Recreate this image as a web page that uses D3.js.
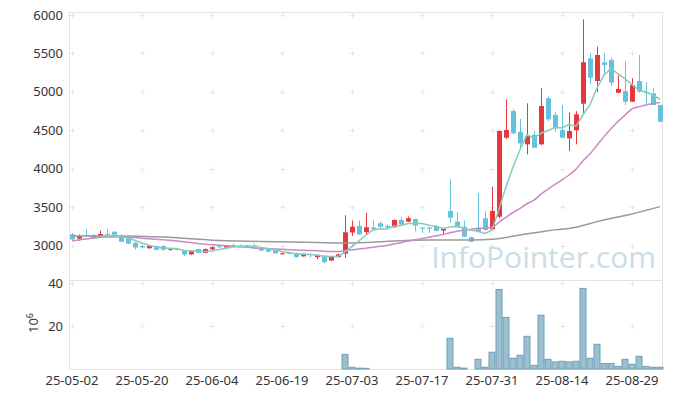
<!DOCTYPE html>
<html><head><meta charset="utf-8">
<script src="https://cdn.jsdelivr.net/npm/d3@7"></script>
<style>html,body{margin:0;padding:0;background:#fff;}svg{display:block;font-family:"Noto Sans",sans-serif;}</style>
</head><body><svg id="c" width="673" height="398"></svg>
<script>
const dates = ["2025-05-02","2025-05-07","2025-05-08","2025-05-09","2025-05-12","2025-05-13","2025-05-14","2025-05-15","2025-05-16","2025-05-19",
"2025-05-20","2025-05-21","2025-05-22","2025-05-23","2025-05-26","2025-05-27","2025-05-28","2025-05-29","2025-05-30","2025-06-02",
"2025-06-04","2025-06-05","2025-06-09","2025-06-10","2025-06-11","2025-06-12","2025-06-13","2025-06-16","2025-06-17","2025-06-18",
"2025-06-19","2025-06-20","2025-06-23","2025-06-24","2025-06-25","2025-06-26","2025-06-27","2025-06-30","2025-07-01","2025-07-02",
"2025-07-03","2025-07-04","2025-07-07","2025-07-08","2025-07-09","2025-07-10","2025-07-11","2025-07-14","2025-07-15","2025-07-16",
"2025-07-17","2025-07-18","2025-07-21","2025-07-22","2025-07-23","2025-07-24","2025-07-25","2025-07-28","2025-07-29","2025-07-30",
"2025-07-31","2025-08-01","2025-08-04","2025-08-05","2025-08-06","2025-08-07","2025-08-08","2025-08-11","2025-08-12","2025-08-13",
"2025-08-14","2025-08-18","2025-08-19","2025-08-20","2025-08-21","2025-08-22","2025-08-25","2025-08-26","2025-08-27","2025-08-28",
"2025-08-29","2025-09-01","2025-09-02","2025-09-03","2025-09-04"];
const open = [3150,3095,3140,3140,3125,3160,3185,3125,3115,3040,
3000,2970,3000,3000,2958,2962,2945,2890,2960,2910,
2955,2995,2980,3005,3005,2985,3005,2975,2955,2945,
2898,2910,2910,2865,2895,2855,2875,2810,2855,2900,
3175,3260,3180,3240,3295,3260,3243,3338,3316,3350,
3240,3240,3250,3200,3455,3316,3250,3113,3220,3360,
3216,3380,4406,4753,4484,4320,4442,4320,4918,4701,
4506,4398,4502,4848,5437,5143,5386,5416,4990,5013,
4874,5143,5000,4983,4831];
const high = [3170,3150,3220,3150,3200,3220,3190,3150,3140,3050,
3010,3005,3005,3005,2975,2975,2950,2935,2965,2965,
2990,3010,3010,3030,3020,3010,3030,2980,2960,2950,
2915,2920,2915,2905,2905,2885,2880,2870,2900,3400,
3330,3330,3430,3330,3320,3280,3345,3380,3385,3355,
3245,3245,3270,3225,3866,3440,3330,3120,3684,3450,
3770,4500,4905,4780,4650,4853,4490,5048,4940,4740,
4831,4736,4750,5944,5500,5590,5500,5450,5212,5400,
5180,5480,5126,5050,4835];
const low = [3070,3065,3120,3095,3115,3140,3140,3050,3025,2955,
2970,2965,2945,2940,2935,2945,2870,2885,2905,2905,
2950,2980,2975,2990,2990,2980,2965,2935,2920,2900,
2890,2890,2850,2860,2850,2830,2775,2805,2850,2845,
3130,3145,3150,3200,3230,3230,3240,3270,3310,3190,
3170,3170,3190,3140,3300,3245,3115,3050,3175,3200,
3200,3360,4390,4450,4270,4190,4270,4310,4620,4480,
4400,4234,4320,4710,5100,5000,5210,5080,4985,4831,
4870,4990,4840,4830,4610];
const close = [3085,3130,3130,3100,3155,3148,3145,3055,3030,2980,
2980,3000,2950,2950,2965,2955,2890,2930,2910,2960,
2985,2988,3005,2995,2995,3005,2970,2940,2925,2905,
2905,2900,2855,2900,2885,2880,2790,2865,2890,3178,
3250,3150,3243,3220,3250,3240,3338,3277,3360,3265,
3225,3225,3195,3220,3368,3250,3120,3056,3180,3208,
3455,4494,4506,4464,4333,4428,4277,4818,4645,4528,
4406,4493,4710,5386,5186,5480,5351,5122,5039,4874,
5091,5004,4990,4831,4614];
const volume = [0.05,0.03,0.04,0.03,0.03,0.03,0.04,0.05,0.05,0.04,
0.03,0.03,0.03,0.03,0.03,0.03,0.04,0.03,0.03,0.03,
0.03,0.03,0.03,0.03,0.03,0.03,0.03,0.03,0.03,0.03,
0.03,0.03,0.03,0.03,0.03,0.03,0.05,0.03,0.03,6.8,
0.8,0.4,0.3,0.05,0.05,0.03,0.05,0.03,0.05,0.05,
0.03,0.03,0.03,0.05,14.3,0.8,0.4,0.1,4.5,0.8,
7.8,37.0,24.0,5.0,6.4,15.2,1.7,25.0,4.5,3.3,
3.6,3.3,3.6,37.5,5.0,11.5,2.6,2.6,1.2,4.5,
2.2,5.9,1.2,0.8,0.8];
const ma20HeadIdx = [0,2,5,8,10,13,16,19];
const ma20HeadVal = [3065,3090,3118,3115,3100,3080,3055,3022];
const ma60Idx = [0,7,13,17,20,27,35,39,42,46,51,57,60,64,68,72,75,80,84];
const ma60Val = [3128,3130,3115,3095,3075,3058,3045,3040,3046,3063,3076,3078,3087,3143,3199,3243,3316,3416,3511];
const priceTicks = [3000,3500,4000,4500,5000,5500,6000];
const volTicks = [20,40];
const xTickIdx = [0,10,20,30,40,50,60,70,80];

const svg = d3.select("#c");
const L = 69, R = 663, T = 12, MID = 280, B = 369;
const x = d3.scaleBand().domain(d3.range(dates.length)).range([L - 0.5, R + 0.5]);
const cx = i => x(i) + x.bandwidth() / 2;
const y = d3.scaleLinear().domain([2558, 6039]).range([MID, T]);
const yv = d3.scaleLinear().domain([0, 41.4]).range([B, MID]);
const UP = "#e8363d", DOWN = "#66c1dc";

// grid crosses
const gGrid = svg.append("g").attr("stroke", "#e6e6e6").attr("stroke-width", 1);
const crossYs = priceTicks.map(v => y(v)).concat(volTicks.map(v => yv(v)));
xTickIdx.forEach(i => crossYs.forEach(yy => {
  const px = Math.round(cx(i)) + 0.5, py = Math.round(yy) + 0.5;
  gGrid.append("line").attr("x1", px - 2.5).attr("x2", px + 2.5).attr("y1", py).attr("y2", py);
  gGrid.append("line").attr("x1", px).attr("x2", px).attr("y1", py - 2.5).attr("y2", py + 2.5);
}));

// frame
const gF = svg.append("g").attr("stroke", "#e3e3e3").attr("fill", "none");
gF.append("rect").attr("x", L + 0.5).attr("y", T + 0.5).attr("width", R - L - 1).attr("height", B - T);
gF.append("line").attr("x1", L).attr("x2", R).attr("y1", MID + 0.5).attr("y2", MID + 0.5);

// watermark
svg.append("text").attr("x", 656).attr("y", 268).attr("text-anchor", "end")
  .attr("font-size", 30).attr("fill", "#c9dde8").attr("font-family", "'Open Sans','Noto Sans',sans-serif")
  .text("InfoPointer.com");

// volume bars
svg.append("g").selectAll("rect").data(volume.map((v, i) => [i, v]).filter(p => yv(0) - yv(p[1]) >= 0.5)).join("rect")
  .attr("x", p => x(p[0]) + 0.5).attr("width", x.bandwidth() - 1)
  .attr("y", p => yv(p[1])).attr("height", p => yv(0) - yv(p[1]))
  .attr("fill", "#9bbfcf").attr("stroke", "#6f9fb6").attr("stroke-width", 1);

// candles
const gC = svg.append("g");
dates.forEach((d, i) => {
  const up = close[i] >= open[i];
  const col = up ? UP : DOWN;
  const xc = Math.round(cx(i)) + 0.5;
  gC.append("line").attr("x1", xc).attr("x2", xc).attr("y1", y(high[i])).attr("y2", y(low[i]))
    .attr("stroke", col).attr("stroke-width", 1);
  const top = y(Math.max(open[i], close[i])), bot = y(Math.min(open[i], close[i]));
  gC.append("rect").attr("x", xc - 2.5).attr("width", 5).attr("y", top).attr("height", Math.max(1, bot - top))
    .attr("fill", col);
});

// moving averages
const ma5 = [];
for (let i = 4; i < close.length; i++) ma5.push([i, d3.mean(close.slice(i - 4, i + 1))]);
const ma20 = ma20HeadIdx.map((k, j) => [k, ma20HeadVal[j]]).filter(p => p[0] < 19);
for (let i = 19; i < close.length; i++) ma20.push([i, d3.mean(close.slice(i - 19, i + 1))]);
const ma60 = ma60Idx.map((k, j) => [k, ma60Val[j]]);
const line = d3.line().x(p => cx(p[0])).y(p => y(p[1])).curve(d3.curveMonotoneX);
svg.append("path").attr("d", line(ma60)).attr("fill", "none").attr("stroke", "#9a9a9a").attr("stroke-width", 1.5);
svg.append("path").attr("d", line(ma20)).attr("fill", "none").attr("stroke", "#c98ac6").attr("stroke-width", 1.5);
svg.append("path").attr("d", d3.line().x(p => cx(p[0])).y(p => y(p[1]))(ma5)).attr("fill", "none").attr("stroke", "#86cbbb").attr("stroke-width", 1.5);

// axes labels
const gA = svg.append("g").attr("font-size", 13).attr("fill", "#333");
priceTicks.forEach(v => gA.append("text").attr("x", 63).attr("y", y(v) + 4.5).attr("text-anchor", "end").text(v));
volTicks.forEach(v => gA.append("text").attr("x", 63).attr("y", yv(v) + 4.5).attr("text-anchor", "end").text(v));
xTickIdx.forEach(i => gA.append("text").attr("x", cx(i)).attr("y", 385).attr("text-anchor", "middle")
  .text(dates[i].slice(2)));
const t6 = gA.append("text").attr("transform", "translate(38,323) rotate(-90)").attr("text-anchor", "middle");
t6.append("tspan").text("10");
t6.append("tspan").attr("dy", -5).attr("font-size", 9).text("6");
</script></body></html>
